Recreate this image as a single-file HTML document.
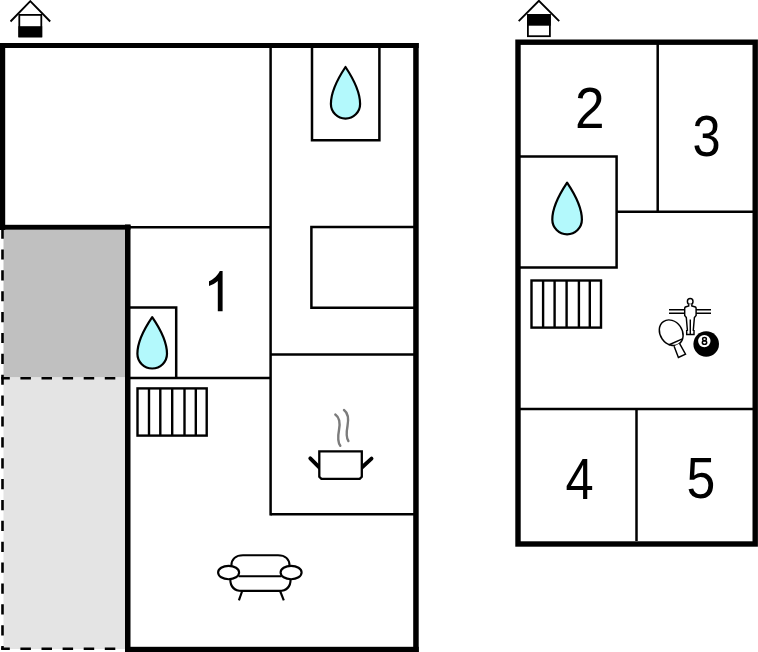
<!DOCTYPE html>
<html><head><meta charset="utf-8"><title>Floor plan</title>
<style>
html,body{margin:0;padding:0;background:#fff;width:758px;height:652px;overflow:hidden}
svg{display:block}
</style></head><body>
<svg width="758" height="652" viewBox="0 0 758 652">
<!-- ===== LEFT BUILDING ===== -->
<!-- terrace grey areas -->
<rect x="3.5" y="229.5" width="121.5" height="148" fill="#c0c0c0"/>
<rect x="3.5" y="377.5" width="121.5" height="271.5" fill="#e4e4e4"/>
<g stroke="#000" stroke-width="2.6" fill="none">
  <line x1="2.5" y1="228.5" x2="2.5" y2="649.5" stroke-dasharray="10.2 10.68"/>
  <line x1="1.2" y1="378.2" x2="125" y2="378.2" stroke-dasharray="10.5 10.6" stroke-dashoffset="1.9"/>
  <line x1="1.2" y1="648.8" x2="125" y2="648.8" stroke-dasharray="10.5 10.6" stroke-dashoffset="1.9"/>
</g>
<!-- thick outer walls -->
<g fill="#000">
  <rect x="0" y="43" width="418.7" height="5"/>
  <rect x="413.2" y="43" width="5.5" height="609"/>
  <rect x="0" y="43" width="5.2" height="187"/>
  <rect x="0" y="224.8" width="130.5" height="4.9"/>
  <rect x="125" y="224.5" width="5.5" height="427.5"/>
  <rect x="125" y="646.8" width="293.7" height="5.2"/>
</g>
<!-- interior walls -->
<g stroke="#000" stroke-width="2.5" fill="none">
  <line x1="270.6" y1="46" x2="270.6" y2="515.5"/>
  <line x1="130" y1="227.3" x2="270.6" y2="227.3"/>
  <path d="M312,46 V140.3 H379.4 V46"/>
  <path d="M414,227 H311.4 V307.7 H414"/>
  <line x1="270.6" y1="354.6" x2="414" y2="354.6"/>
  <line x1="270.6" y1="514.2" x2="414" y2="514.2"/>
  <path d="M129,307.6 H176.2 V378"/>
  <line x1="130" y1="378" x2="270.6" y2="378"/>
</g>
<!-- stairs left -->
<g stroke="#000" stroke-width="2.4" fill="none">
  <rect x="137.5" y="388.4" width="69.2" height="47.2"/>
  <line x1="149" y1="388.4" x2="149" y2="435.6"/>
  <line x1="160.3" y1="388.4" x2="160.3" y2="435.6"/>
  <line x1="172.2" y1="388.4" x2="172.2" y2="435.6"/>
  <line x1="184.5" y1="388.4" x2="184.5" y2="435.6"/>
  <line x1="195.8" y1="388.4" x2="195.8" y2="435.6"/>
</g>
<!-- drops -->
<g fill="#b3f9fc" stroke="#000" stroke-width="2.2" stroke-linejoin="round">
  <path transform="translate(345.5,67)" d="M0,0 C4,6 14.6,22 14.6,37 A14.6,14.6 0 0 1 -14.6,37 C-14.6,22 -4,6 0,0 Z"/>
  <path transform="translate(152.2,317.1)" d="M0,0 C4.3,6.3 14.8,21.5 14.8,36.6 A14.8,14.8 0 0 1 -14.8,36.6 C-14.8,21.5 -4.3,6.3 0,0 Z"/>
  <path transform="translate(567.1,182.7)" d="M0,0 C4,6 14.8,21.8 14.8,36.9 A14.8,14.8 0 0 1 -14.8,36.9 C-14.8,21.8 -4,6 0,0 Z"/>
</g>
<!-- label 1 -->
<path d="M219.8,270.9 H222.6 V311.3 H217.8 V281 C215.5,283 212,285 209,286 V281.3 C213.5,279 218,275 219.8,270.9 Z" fill="#000"/>
<!-- pot -->
<g fill="none" stroke="#000">
  <line x1="310.3" y1="458.3" x2="320" y2="468.2" stroke-width="3.9" stroke-linecap="round"/>
  <line x1="371.5" y1="458.6" x2="361" y2="468.2" stroke-width="3.9" stroke-linecap="round"/>
  <path d="M319.3,451.3 H361.8 V476.8 L359.7,478.9 H321.4 L319.3,476.8 Z" stroke-width="2.3" fill="#fff"/>
</g>
<g fill="none" stroke="#7c7c7c" stroke-width="2.4" stroke-linecap="round">
  <path d="M335.3,414.6 C339.5,417.5 340.3,423 339,430 C337.7,437 337.5,442 340.3,445.8"/>
  <path d="M344,410 C348,413 348.8,419 347.5,426 C346.2,433 346,437.5 348.4,441"/>
</g>
<!-- sofa -->
<g fill="none" stroke="#000" stroke-width="2.15">
  <path d="M231.3,566 C231.3,559 236,555.2 243,555.2 H278 C285,555.2 289.6,559 289.6,566"/>
  <path d="M230.3,579 C230.3,587 234.5,590.9 242,590.9 H279 C286.5,590.9 290.6,587 290.6,579"/>
  <line x1="238.5" y1="576.2" x2="281.5" y2="576.2"/>
  <ellipse cx="228.6" cy="572.5" rx="10.5" ry="6.7" fill="#fff"/>
  <ellipse cx="291.1" cy="572.5" rx="10.5" ry="6.7" fill="#fff"/>
  <line x1="242.2" y1="591" x2="238.9" y2="600.4"/>
  <line x1="280.1" y1="591" x2="283.8" y2="600.4"/>
</g>

<!-- ===== RIGHT BUILDING ===== -->
<rect x="518" y="42.2" width="237.2" height="501.8" fill="none" stroke="#000" stroke-width="5.4"/>
<g stroke="#000" stroke-width="2.5" fill="none">
  <line x1="657.7" y1="44" x2="657.7" y2="211.7"/>
  <line x1="616.6" y1="211.7" x2="753" y2="211.7"/>
  <path d="M520,156.6 H616.6 V267.4 H520"/>
  <line x1="520" y1="409" x2="753" y2="409"/>
  <line x1="636.5" y1="409" x2="636.5" y2="541"/>
</g>
<!-- stairs right -->
<g stroke="#000" stroke-width="2.4" fill="none">
  <rect x="531.5" y="280.5" width="69.5" height="47.1"/>
  <line x1="543.1" y1="280.5" x2="543.1" y2="327.6"/>
  <line x1="554.6" y1="280.5" x2="554.6" y2="327.6"/>
  <line x1="566.6" y1="280.5" x2="566.6" y2="327.6"/>
  <line x1="578.9" y1="280.5" x2="578.9" y2="327.6"/>
  <line x1="589.8" y1="280.5" x2="589.8" y2="327.6"/>
</g>
<!-- labels -->
<g font-family="Liberation Sans" font-size="57.5" fill="#000">
  <text transform="translate(574.9,127.7) scale(0.925,1)">2</text>
  <text transform="translate(692.4,155.8) scale(0.88,1)">3</text>
  <text transform="translate(565.4,498.5) scale(0.88,1)">4</text>
  <text transform="translate(686.6,498.3) scale(0.9,1)">5</text>
</g>
<!-- games icon -->
<g stroke="#000" stroke-width="1.45" fill="none">
  <line x1="669" y1="309.7" x2="711" y2="309.7"/>
  <line x1="669" y1="313.2" x2="711" y2="313.2"/>
  <ellipse cx="690.2" cy="301.4" rx="2.8" ry="3" fill="#fff"/>
  <path fill="#fff" d="M688.7,304.3 V306 L685.4,307 Q684.7,307.4 684.7,308.4 V315.5 L686.3,317.5 L687.4,330.3 L686.7,330.6 V334.5 H694 V330.6 L693.3,330.3 L694.4,317.5 L696.1,315.5 V308.4 Q696.1,307.4 695.4,307 L691.8,306 V304.3"/>
  <line x1="690.3" y1="319.5" x2="690.3" y2="334"/>
  <ellipse cx="671.2" cy="332.7" rx="11" ry="13.6" transform="rotate(-35 671.2 332.7)" fill="#fff"/>
  <line x1="668.6" y1="345" x2="682.4" y2="338.8"/>
  <path fill="#fff" d="M674.1,346.3 L678.4,357.4 L685.5,354.2 L679.5,343.4"/>
</g>
<circle cx="706.2" cy="344" r="12.8" fill="#000"/>
<circle cx="704.3" cy="341.1" r="6.2" fill="#fff"/>
<g fill="none" stroke="#000" stroke-width="1.45">
  <ellipse cx="704.5" cy="339.1" rx="1.9" ry="1.65"/>
  <ellipse cx="704.5" cy="342.5" rx="2.2" ry="1.85"/>
</g>

<!-- house icons -->
<g stroke="#000" stroke-width="1.9" fill="none">
  <polyline points="10.5,21.5 30.3,1.2 50.2,21.5"/>
  <polyline points="518.7,21.2 538.9,0.8 559.2,21.2"/>
</g>
<rect x="19.3" y="14.9" width="22" height="21.5" fill="#fff" stroke="#000" stroke-width="1.8"/>
<rect x="18.4" y="26.2" width="23.8" height="11.1" fill="#000"/>
<rect x="527.9" y="15" width="22" height="21.2" fill="#fff" stroke="#000" stroke-width="1.8"/>
<rect x="527" y="14.1" width="23.8" height="11.6" fill="#000"/>
</svg>
</body></html>
